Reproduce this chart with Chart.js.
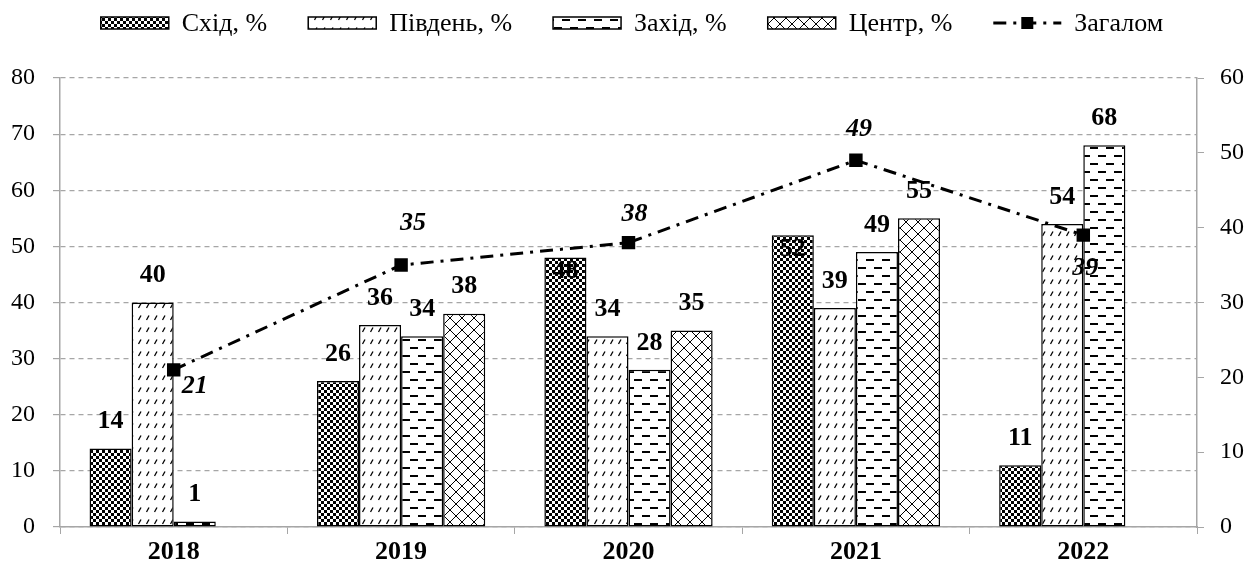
<!DOCTYPE html>
<html lang="uk">
<head>
  <meta charset="UTF-8" />
  <title>Регіони</title>
  <script src="https://cdn.jsdelivr.net/npm/chart.js"></script>
  <style>
    body { margin: 0; background: #fff; }
    .wrap { width: 1250px; height: 567px; position: relative; }
  </style>
</head>
<body>
  <div class="wrap">
    <canvas id="regionChart"></canvas>
  </div>

  <script>
  // data
  const years = ['2018', '2019', '2020', '2021', '2022'];
  const east = [14, 26, 48, 52, 11];
  const south = [40, 36, 34, 39, 54];
  const west = [1, 34, 28, 49, 68];
  const centre = [null, 38, 35, 55, null];
  const total = [21, 35, 38, 49, 39];
  const seriesNames = ['Схід, %', 'Південь, %', 'Захід, %', 'Центр, %', 'Загалом'];

  // where the italic labels of the line sit relative to the marker
  const totalLabelOffsets = [[21, 16], [12, -42], [6, -28], [3, -31], [2, 33]];

  const FONT = '"Liberation Serif", "Times New Roman", serif';
  const GREY = '#a6a6a6';

  const canvas = document.getElementById('regionChart');
  const ctx = canvas.getContext('2d');

  function makePattern(w, h, draw) {
    const c = document.createElement('canvas');
    c.width = w; c.height = h;
    const g = c.getContext('2d');
    g.fillStyle = '#fff';
    g.fillRect(0, 0, w, h);
    g.fillStyle = '#000';
    g.strokeStyle = '#000';
    draw(g);
    return ctx.createPattern(c, 'repeat');
  }

  const checker = makePattern(6, 6, g => {
    g.fillRect(0, 0, 3, 3);
    g.fillRect(3, 3, 3, 3);
  });
  const slashes = makePattern(8, 12, g => {
    g.lineWidth = 1.3;
    g.beginPath();
    g.moveTo(2.5, 8); g.lineTo(5, 3.5);
    g.stroke();
  });
  const dashes = makePattern(16, 16, g => {
    g.fillRect(2, 3, 8, 2);
    g.fillRect(10, 11, 6, 2);
    g.fillRect(0, 11, 2, 2);
  });
  const crossHatch = makePattern(12, 12, g => {
    g.lineWidth = 1;
    g.beginPath();
    g.moveTo(0, 0); g.lineTo(12, 12);
    g.moveTo(12, 0); g.lineTo(0, 12);
    g.stroke();
  });

  const fills = [checker, slashes, dashes, crossHatch];
  const barSeries = [east, south, west, centre];

  const lineDash = [13, 7, 3, 7];

  const valueLabels = {
    id: 'valueLabels',
    afterDatasetsDraw(chart) {
      const c = chart.ctx;
      c.save();
      c.fillStyle = '#000';
      c.textAlign = 'center';
      c.textBaseline = 'middle';
      chart.data.datasets.forEach((ds, di) => {
        const meta = chart.getDatasetMeta(di);
        meta.data.forEach((el, i) => {
          const v = ds.data[i];
          if (v == null) return;
          if (ds.type === 'line') {
            c.font = 'italic bold 26px ' + FONT;
            const off = totalLabelOffsets[i];
            c.fillText(v, el.x + off[0], el.y + off[1]);
          } else {
            c.font = 'bold 26px ' + FONT;
            // the two tall "Схід" bars carry their label inside the top
            const inside = di === 0 && (i === 2 || i === 3);
            c.fillText(v, el.x, inside ? el.y + 14 : el.y - 27);
          }
        });
      });
      c.restore();
    }
  };

  // legend drawn by hand: pattern boxes and a dash-dot line with a square
  const customLegend = {
    id: 'customLegend',
    afterDraw(chart) {
      const c = chart.ctx;
      const boxW = 68, boxH = 12, textGap = 13, itemGap = 41, cy = 23;
      c.save();
      c.font = '26px ' + FONT;
      c.textBaseline = 'middle';
      c.textAlign = 'left';
      const widths = seriesNames.map(n => boxW + textGap + c.measureText(n).width);
      const totalW = widths.reduce((a, b) => a + b, 0) + itemGap * (widths.length - 1);
      let x = chart.width / 2 + 7 - totalW / 2;
      seriesNames.forEach((name, i) => {
        if (i < 4) {
          c.fillStyle = fills[i];
          c.fillRect(x, cy - boxH / 2, boxW, boxH);
          c.strokeStyle = '#000';
          c.lineWidth = 1.5;
          c.strokeRect(x, cy - boxH / 2, boxW, boxH);
        } else {
          c.strokeStyle = '#000';
          c.lineWidth = 3;
          c.setLineDash(lineDash);
          c.beginPath();
          c.moveTo(x, cy); c.lineTo(x + boxW, cy);
          c.stroke();
          c.setLineDash([]);
          c.fillStyle = '#000';
          c.fillRect(x + boxW / 2 - 6, cy - 6, 12, 12);
        }
        c.fillStyle = '#000';
        c.fillText(name, x + boxW + textGap, cy + 1);
        x += widths[i] + itemGap;
      });
      c.restore();
    }
  };

  const datasets = barSeries.map((arr, i) => ({
    label: seriesNames[i],
    data: arr,
    backgroundColor: fills[i],
    borderColor: '#000',
    borderWidth: 1.5,
    borderSkipped: false,
    yAxisID: 'y',
    order: 2,
    barPercentage: 1,
    categoryPercentage: 0.74
  }));

  datasets.push({
    type: 'line',
    label: seriesNames[4],
    data: total,
    yAxisID: 'y1',
    borderColor: '#000',
    borderWidth: 3,
    borderDash: lineDash,
    pointStyle: 'rect',
    pointRadius: 9.5,
    pointBackgroundColor: '#000',
    pointBorderColor: '#000',
    pointBorderWidth: 0,
    fill: false,
    tension: 0,
    order: 1
  });

  new Chart(ctx, {
    type: 'bar',
    data: { labels: years, datasets: datasets },
    options: {
      responsive: true,
      maintainAspectRatio: false,
      animation: false,
      layout: { padding: { left: 11, right: 0, top: 78, bottom: 0 } },
      plugins: {
        tooltip: { enabled: false },
        legend: { display: false }
      },
      scales: {
        x: {
          grid: { offset: true, drawOnChartArea: false, color: GREY, tickLength: 7 },
          border: { color: GREY, width: 1.5 },
          ticks: { color: '#000', font: { family: FONT, size: 26, weight: 'bold' }, padding: 3 },
          afterFit(scale) { scale.height = 40; }
        },
        y: {
          position: 'left',
          min: 0,
          max: 80,
          ticks: { stepSize: 10, color: '#000', font: { family: FONT, size: 24 }, padding: 18 },
          grid: { color: GREY, tickLength: 7, lineWidth: 1.2 },
          border: { color: GREY, width: 1.5, dash: [5, 4] },
          afterFit(scale) { scale.width = 49; }
        },
        y1: {
          position: 'right',
          min: 0,
          max: 60,
          ticks: { stepSize: 10, color: '#000', font: { family: FONT, size: 24 }, padding: 16 },
          grid: { drawOnChartArea: false, color: GREY, tickLength: 7 },
          border: { color: GREY, width: 1.5 },
          afterFit(scale) { scale.width = 53; }
        }
      }
    },
    plugins: [valueLabels, customLegend]
  });
  </script>
</body>
</html>
